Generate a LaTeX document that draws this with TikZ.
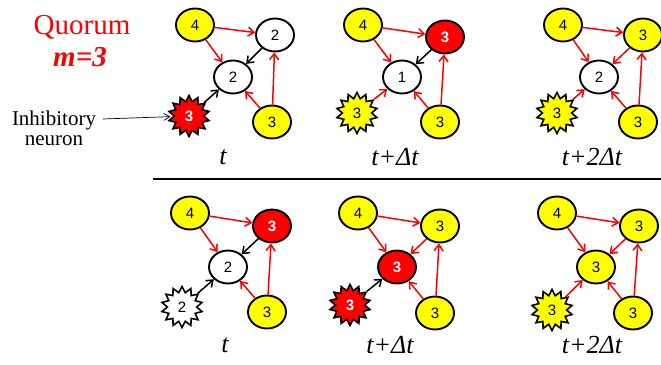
\documentclass[tikz,border=0pt]{standalone}
\usepackage{fontspec}
\setmainfont{Liberation Serif}
\setsansfont{Liberation Sans}
\usepackage{tikz}
\usetikzlibrary{arrows.meta,shapes.geometric}
\definecolor{fire}{RGB}{255,0,0}
\definecolor{yel}{RGB}{255,255,0}

\begin{document}
\begin{tikzpicture}[
    x=1pt, y=-1pt,
    neu/.style={ellipse, draw, line width=1.9pt, minimum width=38pt, minimum height=33pt, inner sep=0pt, font=\sffamily\fontsize{15}{15}\selectfont},
    on/.style={neu, fill=yel},
    off/.style={neu, fill=white},
    hot/.style={neu, fill=fire, text=white, font=\sffamily\bfseries\fontsize{15}{15}\selectfont},
    inh/.style={star, star points=14, star point ratio=1.4, minimum size=41pt, inner sep=0pt, draw, line width=1.6pt, font=\sffamily\fontsize{15}{15}\selectfont},
    inhon/.style={inh, fill=yel},
    inhoff/.style={inh, fill=white},
    inhhot/.style={inh, fill=fire, text=white, font=\sffamily\bfseries\fontsize{15}{15}\selectfont},
    sig/.style={-{Straight Barb[length=6pt,width=9pt]}, draw=fire, line width=1.5pt},
    mute/.style={-{Straight Barb[length=6pt,width=9pt]}, draw=black, line width=1.5pt},
    stamp/.style={font=\fontsize{26}{26}\selectfont\itshape}
  ]
    \useasboundingbox (0,0) rectangle (661,364);

    \node[text=fire, font=\fontsize{29}{29}\selectfont] (quorum) at (82,27) {Quorum};
    \node[text=fire, font=\fontsize{29}{29}\selectfont\bfseries\itshape] (m) at (80,57) {m=3};
    \node[align=center, font=\fontsize{21}{20}\selectfont] (inhib) at (54,128) {Inhibitory\\neuron};

    \begin{scope}[shift={(195,25)}]
    \node[on] (A4) at (0,0) {4};
    \node[off] (Atr) at (80,10) {2};
    \node[off] (Ac) at (38,52) {2};
    \node[inhhot] (Ab) at (-6,91) {3};
    \node[on] (Ar) at (77,97) {3};
    \node[stamp] (At) at (28,132) {t};
    \end{scope}
    \draw[sig] (A4) -- (Atr);
    \draw[sig] (A4) -- (Ac);
    \draw[mute] (Atr) -- (Ac);
    \draw[sig] (Ar) -- (Ac);
    \draw[sig] (Ar) -- (Atr);
    \draw[mute] (Ab) -- (Ac);
    \draw[-{Straight Barb[length=6pt,width=7pt]}, line width=0.7pt, shorten >=2pt] ([xshift=3pt,yshift=9pt]inhib.east) -- (Ab);

    \begin{scope}[shift={(363,25)}]
    \node[on] (B4) at (0,0) {4};
    \node[hot] (Btr) at (82,12) {3};
    \node[off] (Bc) at (39,52) {1};
    \node[inhon] (Bb) at (-6,88) {3};
    \node[on] (Br) at (77,97) {3};
    \node[stamp] (Bt) at (32,132) {t+Δt};
    \end{scope}
    \draw[sig] (B4) -- (Btr);
    \draw[sig] (B4) -- (Bc);
    \draw[mute] (Btr) -- (Bc);
    \draw[sig] (Br) -- (Bc);
    \draw[sig] (Br) -- (Btr);
    \draw[sig] (Bb) -- (Bc);

    \begin{scope}[shift={(563,25)}]
    \node[on] (C4) at (0,0) {4};
    \node[on] (Ctr) at (80,10) {3};
    \node[off] (Cc) at (36,52) {2};
    \node[inhon] (Cb) at (-6,88) {3};
    \node[on] (Cr) at (75,97) {3};
    \node[stamp] (Ct) at (29,132) {t+2Δt};
    \end{scope}
    \draw[sig] (C4) -- (Ctr);
    \draw[sig] (C4) -- (Cc);
    \draw[sig] (Ctr) -- (Cc);
    \draw[sig] (Cr) -- (Cc);
    \draw[sig] (Cr) -- (Ctr);
    \draw[sig] (Cb) -- (Cc);

    \draw[line width=2pt] (153,179) coordinate (rulel) -- (661,179) coordinate (ruler);

    \begin{scope}[shift={(190,213)}]
    \node[on] (D4) at (0,0) {4};
    \node[hot] (Dtr) at (82,13) {3};
    \node[off] (Dc) at (38,54) {2};
    \node[inhoff] (Db) at (-8,94) {2};
    \node[on] (Dr) at (77,99) {3};
    \node[stamp] (Dt) at (35,132) {t};
    \end{scope}
    \draw[sig] (D4) -- (Dtr);
    \draw[sig] (D4) -- (Dc);
    \draw[mute] (Dtr) -- (Dc);
    \draw[sig] (Dr) -- (Dc);
    \draw[sig] (Dr) -- (Dtr);
    \draw[mute] (Db) -- (Dc);

    \begin{scope}[shift={(358,213)}]
    \node[on] (E4) at (0,0) {4};
    \node[on] (Etr) at (82,13) {3};
    \node[hot] (Ec) at (39,54) {3};
    \node[inhhot] (Eb) at (-8,92) {3};
    \node[on] (Er) at (77,100) {3};
    \node[stamp] (Et) at (32,132) {t+Δt};
    \end{scope}
    \draw[sig] (E4) -- (Etr);
    \draw[sig] (E4) -- (Ec);
    \draw[sig] (Etr) -- (Ec);
    \draw[sig] (Er) -- (Ec);
    \draw[sig] (Er) -- (Etr);
    \draw[mute] (Eb) -- (Ec);

    \begin{scope}[shift={(557,213)}]
    \node[on] (F4) at (0,0) {4};
    \node[on] (Ftr) at (82,13) {3};
    \node[on] (Fc) at (39,54) {3};
    \node[inhon] (Fb) at (-5,97) {3};
    \node[on] (Fr) at (76,100) {3};
    \node[stamp] (Ft) at (35,132) {t+2Δt};
    \end{scope}
    \draw[sig] (F4) -- (Ftr);
    \draw[sig] (F4) -- (Fc);
    \draw[sig] (Ftr) -- (Fc);
    \draw[sig] (Fr) -- (Fc);
    \draw[sig] (Fr) -- (Ftr);
    \draw[sig] (Fb) -- (Fc);
  \end{tikzpicture}
\end{document}
